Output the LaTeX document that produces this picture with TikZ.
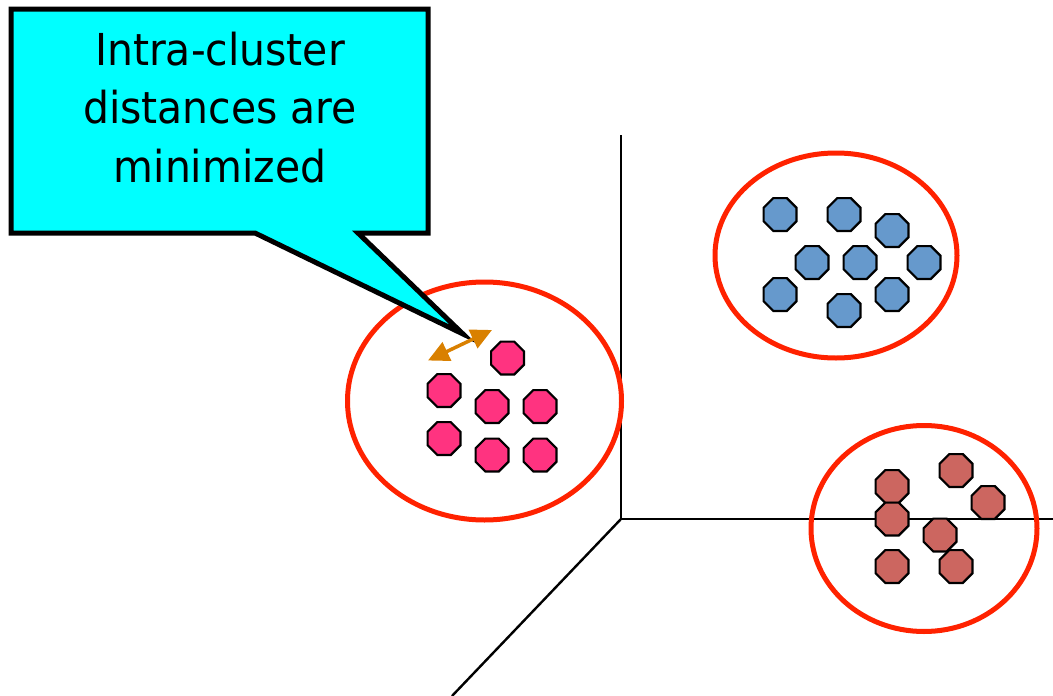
\documentclass[tikz,border=0pt]{standalone}
\usepackage{fontspec}
\setmainfont{DejaVu Sans}[FakeStretch=0.93]
\usetikzlibrary{shapes.geometric,arrows.meta}
\definecolor{callcyan}{HTML}{00FFFF}
\definecolor{ringred}{HTML}{FF2200}
\definecolor{pinkdot}{HTML}{FF3380}
\definecolor{bluedot}{HTML}{6699CC}
\definecolor{browndot}{HTML}{CC6660}
\definecolor{arrorange}{HTML}{D98000}
\tikzset{
  oct/.style={regular polygon, regular polygon sides=8, minimum size=35.5pt, inner sep=0pt, draw=black, line width=2.2pt},
  pk/.style={oct, fill=pinkdot},
  bl/.style={oct, fill=bluedot},
  br/.style={oct, fill=browndot},
  ring/.style={draw=ringred, line width=5pt},
  axis/.style={draw=black, line width=2.4pt},
  calltext/.style={font=\fontsize{44}{59}\selectfont, anchor=base, inner sep=0pt}
}
\begin{document}
\begin{tikzpicture}[x=1pt,y=-1pt]
\useasboundingbox (0,0) rectangle (1053,696);
% axes
\coordinate (o) at (621,519);
\coordinate (ytop) at (621,135);
\coordinate (xend) at (1053,519);
\coordinate (zend) at (452,696);
\draw[axis] (ytop) -- (o) -- (xend);
\draw[axis] (o) -- (zend);
% cluster rings
\node[ring, ellipse, minimum width=274pt, minimum height=238pt, inner sep=0pt] (ringP) at (484.5,401) {};
\node[ring, ellipse, minimum width=242pt, minimum height=205pt, inner sep=0pt] (ringB) at (836,255.5) {};
\node[ring, ellipse, minimum width=226pt, minimum height=206pt, inner sep=0pt] (ringR) at (924,528.5) {};
% pink cluster
\node[pk] (p1) at (507.5,358) {};
\node[pk] (p2) at (444,390.5) {};
\node[pk] (p3) at (492,406.5) {};
\node[pk] (p4) at (540,406.5) {};
\node[pk] (p5) at (444,438.5) {};
\node[pk] (p6) at (492,455) {};
\node[pk] (p7) at (540,455) {};
% blue cluster
\node[bl] (b1) at (780,214.5) {};
\node[bl] (b2) at (844,214.5) {};
\node[bl] (b3) at (892,230.5) {};
\node[bl] (b4) at (812,262.5) {};
\node[bl] (b5) at (860,262.5) {};
\node[bl] (b6) at (924,262.5) {};
\node[bl] (b7) at (780,294.5) {};
\node[bl] (b8) at (892,294.5) {};
\node[bl] (b9) at (844,310.5) {};
% brown cluster
\node[br] (r1) at (956,470.5) {};
\node[br] (r2) at (892,486.5) {};
\node[br] (r3) at (988,502.5) {};
\node[br] (r4) at (892,519) {};
\node[br] (r5) at (940,535) {};
\node[br] (r6) at (892,566.5) {};
\node[br] (r7) at (956,566.5) {};
% callout
\coordinate (tip) at (463,334);
\draw[fill=callcyan, line width=5pt, line join=miter, miter limit=12]
  (11,9) -- (428,9) -- (428,233) -- (358,233) -- (tip) -- (255,233) -- (11,233) -- cycle;
\node[calltext] (t1) at (220,65) {Intra-cluster};
\node[calltext] (t2) at (220,123.5) {distances are};
\node[calltext] (t3) at (220,182) {minimized};
% distance arrow
\coordinate (a1) at (428,360.5);
\coordinate (a2) at (492,330);
\draw[draw=arrorange, line width=3.5pt, {Triangle[length=21pt,width=20pt]}-{Triangle[length=21pt,width=20pt]}] (a1) -- (a2);
\end{tikzpicture}
\end{document}
